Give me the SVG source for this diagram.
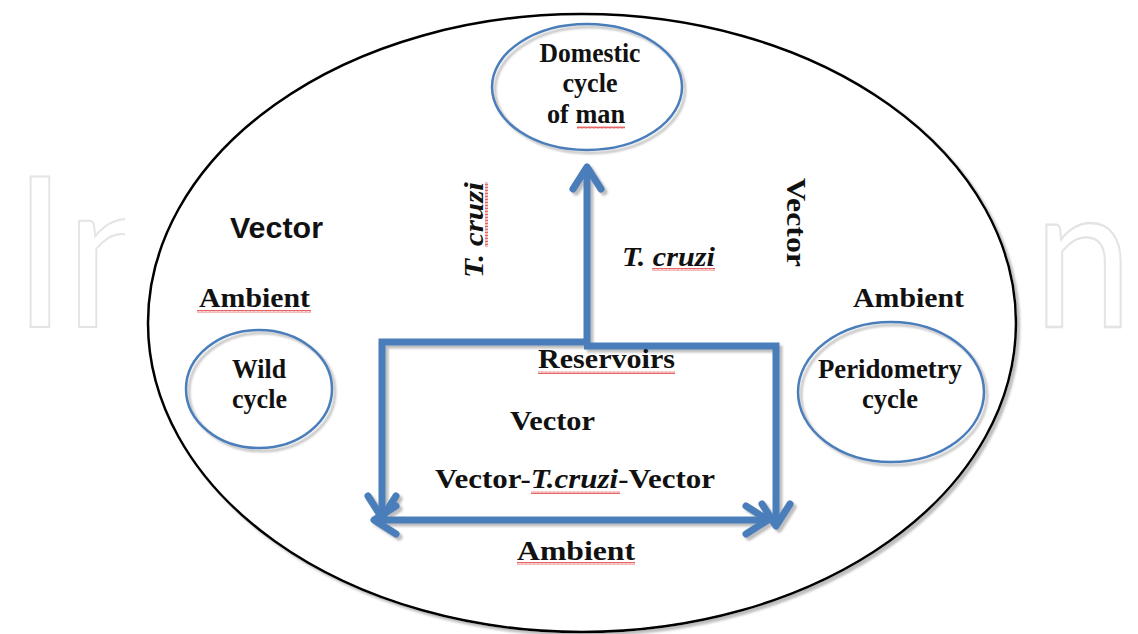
<svg xmlns="http://www.w3.org/2000/svg" width="1138" height="634" viewBox="0 0 1138 634">
<defs>
<style>
.t{font-family:"Liberation Serif","Times New Roman",serif;font-weight:bold;font-size:27px;fill:#111}
.ti{font-style:italic}
.s{font-family:"Liberation Sans",Arial,sans-serif;font-weight:bold;font-size:29px;fill:#111}
.node{fill:none;stroke:#4a7ebb;stroke-width:2.5}
.conn{fill:none;stroke:#4a7ebb;stroke-width:7;stroke-linejoin:miter}
.wm{font-family:Lato,"Open Sans",sans-serif;font-size:210px;fill:none;stroke:#e4e4e4;stroke-width:2}
</style>
<filter id="sh" x="-10%" y="-10%" width="120%" height="120%">
<feDropShadow dx="3" dy="3" stdDeviation="1" flood-color="#888" flood-opacity="0.55"/>
</filter>
<marker id="ah" markerUnits="userSpaceOnUse" viewBox="-30 -20 40 40" refX="0" refY="0" markerWidth="40" markerHeight="40" orient="auto-start-reverse">
<path d="M-22,-14 L0,0 L-22,14" fill="none" stroke="#4a7ebb" stroke-width="7" stroke-linecap="round" stroke-linejoin="round"/>
</marker>
<pattern id="wave" patternUnits="userSpaceOnUse" width="4" height="3">
<path d="M0,2.5 L1,0.5 L2,2.5 L3,0.5 L4,2.5" fill="none" stroke="#e03c3c" stroke-width="0.8"/>
</pattern>
<clipPath id="wmL"><rect x="0" y="0" width="125" height="634"/></clipPath>
</defs>
<rect width="1138" height="634" fill="#fff"/>
<g id="watermark">
<text class="wm" x="13" y="327" clip-path="url(#wmL)" textLength="160" lengthAdjust="spacingAndGlyphs">In</text>
<text class="wm" transform="translate(1034,327) scale(1,1.15)" x="0" y="0" style="font-size:176px">n</text>
</g>
<g id="outer" filter="url(#sh)">
<ellipse cx="582" cy="323" rx="434" ry="309" fill="#fff" stroke="#000" stroke-width="2.5"/>
</g>
<g id="domestic">
<ellipse class="node" cx="587" cy="87" rx="95" ry="63" filter="url(#sh)"/>
<text class="t" x="590" y="62" text-anchor="middle" textLength="101" lengthAdjust="spacingAndGlyphs">Domestic</text>
<text class="t" x="590" y="92" text-anchor="middle" textLength="55" lengthAdjust="spacingAndGlyphs">cycle</text>
<text class="t" x="586" y="123" text-anchor="middle" textLength="78" lengthAdjust="spacingAndGlyphs">of man</text>
<rect x="577" y="126" width="48" height="3" fill="url(#wave)"/>
</g>
<g id="wild">
<ellipse class="node" cx="259" cy="389" rx="73" ry="59" filter="url(#sh)"/>
<text class="t" x="232" y="378" textLength="54" lengthAdjust="spacingAndGlyphs">Wild</text>
<text class="t" x="232" y="408" textLength="55" lengthAdjust="spacingAndGlyphs">cycle</text>
</g>
<g id="peridometry">
<ellipse class="node" cx="891" cy="392" rx="93" ry="70" filter="url(#sh)"/>
<text class="t" x="818" y="378" textLength="144" lengthAdjust="spacingAndGlyphs">Peridometry</text>
<text class="t" x="862" y="408" textLength="56" lengthAdjust="spacingAndGlyphs">cycle</text>
</g>
<g id="connectors" filter="url(#sh)">
<path class="conn" d="M587,345 V167" marker-end="url(#ah)"/>
<path class="conn" d="M590,342 H382 V518" marker-end="url(#ah)"/>
<path class="conn" d="M584,346 H776 V526" marker-end="url(#ah)"/>
<path class="conn" d="M374,520 H768" marker-start="url(#ah)" marker-end="url(#ah)"/>
</g>
<g id="labels">
<text class="s" x="230" y="238" textLength="93" lengthAdjust="spacingAndGlyphs">Vector</text>
<text class="t" x="199" y="307" textLength="111" lengthAdjust="spacingAndGlyphs">Ambient</text>
<rect x="197" y="310" width="114" height="3" fill="url(#wave)"/>
<text class="t ti" transform="translate(483,278) rotate(-90)" x="0" y="0" font-size="28" textLength="96" lengthAdjust="spacingAndGlyphs">T. cruzi</text>
<rect x="485" y="182" width="3" height="65" fill="url(#wave)"/>
<text class="t ti" x="622" y="266" font-size="28" textLength="93" lengthAdjust="spacingAndGlyphs">T. cruzi</text>
<rect x="652" y="268" width="63" height="3" fill="url(#wave)"/>
<text class="t" transform="translate(787,178) rotate(90)" x="0" y="0" font-size="28" textLength="89" lengthAdjust="spacingAndGlyphs">Vector</text>
<text class="t" x="853" y="307" textLength="111" lengthAdjust="spacingAndGlyphs">Ambient</text>
<text class="t" x="538" y="368" textLength="137" lengthAdjust="spacingAndGlyphs">Reservoirs</text>
<rect x="538" y="371" width="137" height="3" fill="url(#wave)"/>
<text class="t" x="510" y="430" textLength="85" lengthAdjust="spacingAndGlyphs">Vector</text>
<text class="t" x="435" y="488" textLength="280" lengthAdjust="spacingAndGlyphs">Vector-<tspan class="ti">T.cruzi</tspan>-Vector</text>
<rect x="531" y="491" width="89" height="3" fill="url(#wave)"/>
<text class="t" x="517" y="560" textLength="118" lengthAdjust="spacingAndGlyphs">Ambient</text>
<rect x="517" y="562" width="118" height="3" fill="url(#wave)"/>
</g>
</svg>
